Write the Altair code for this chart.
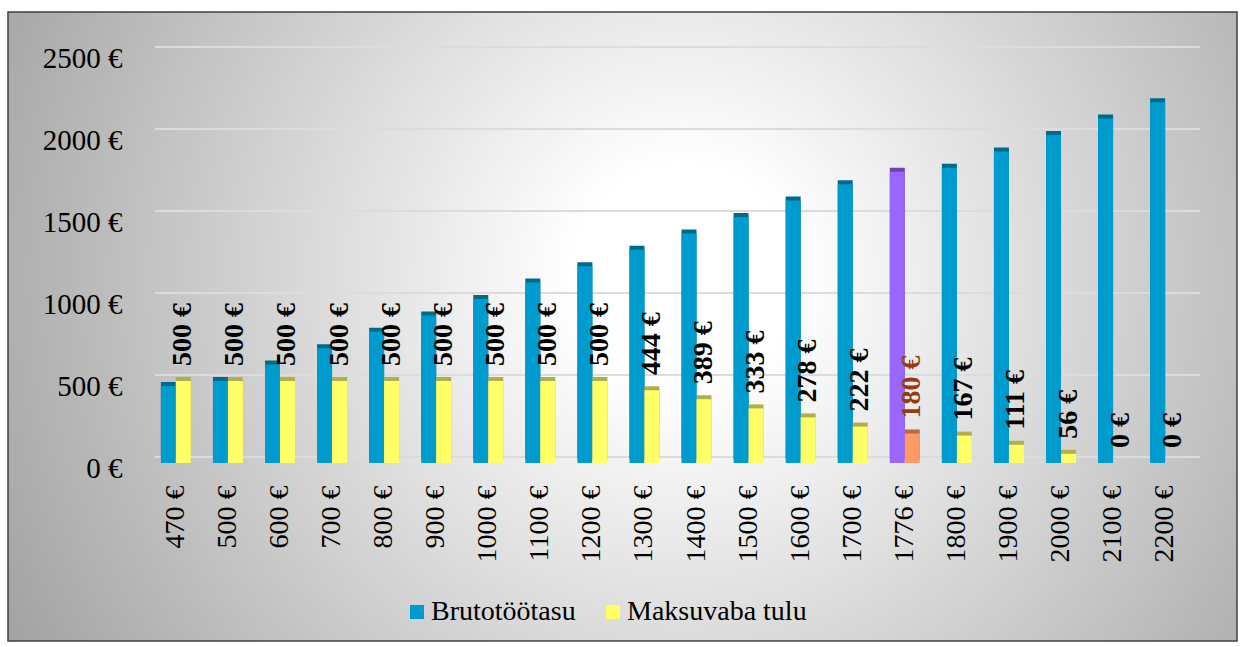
import altair as alt
import pandas as pd

categories = ["470 €", "500 €", "600 €", "700 €", "800 €", "900 €", "1000 €", "1100 €",
              "1200 €", "1300 €", "1400 €", "1500 €", "1600 €", "1700 €", "1776 €",
              "1800 €", "1900 €", "2000 €", "2100 €", "2200 €"]
bruto = [470, 500, 600, 700, 800, 900, 1000, 1100, 1200, 1300, 1400, 1500, 1600, 1700,
         1776, 1800, 1900, 2000, 2100, 2200]
maksuvaba = [500, 500, 500, 500, 500, 500, 500, 500, 500, 444, 389, 333, 278, 222,
             180, 167, 111, 56, 0, 0]
series = ["Brutotöötasu", "Maksuvaba tulu"]
highlight = "1776 €"
y_ticks = [0, 500, 1000, 1500, 2000, 2500]

rows = []
for c, b, m in zip(categories, bruto, maksuvaba):
    for s, v in zip(series, [b, m]):
        key = s + (" *" if c == highlight else "")
        rows.append({"cat": c, "series": s, "value": v, "key": key,
                     "shade": "side " + key, "label": f"{v} €"})
df = pd.DataFrame(rows)

keys = ["Brutotöötasu", "Maksuvaba tulu", "Brutotöötasu *", "Maksuvaba tulu *"]
shade_keys = ["side " + k for k in keys]
front_colors = ["#009BCE", "#FFFF66", "#9966FF", "#FF9966"]
side_colors = ["#006A8C", "#B0B04A", "#6A45B5", "#B86A48"]

FONT = "Liberation Serif"

x_enc = alt.X("cat:N", sort=categories,
              scale=alt.Scale(paddingInner=0.424, paddingOuter=0.247),
              axis=alt.Axis(title=None, labelAngle=-90, labelFont=FONT, labelFontSize=28,
                            labelColor="black", ticks=False, domain=False, grid=False,
                            labelPadding=22, zindex=1))
xoff_enc = alt.XOffset("series:N", scale=alt.Scale(domain=series, paddingInner=0, paddingOuter=0))
y_enc = alt.Y("value:Q", scale=alt.Scale(domain=[0, 2500], nice=False),
              axis=alt.Axis(title=None, values=y_ticks, labelExpr="datum.value + ' €'",
                            labelFont=FONT, labelFontSize=29, labelColor="black",
                            ticks=False, domain=False, grid=False,
                            labelPadding=26, labelOffset=5, zindex=1))

bg = alt.Chart(pd.DataFrame({"a": [0]})).mark_rect(
    fill=alt.Gradient(gradient="radial",
                      stops=[alt.GradientStop(offset=0, color="#FFFFFF"),
                             alt.GradientStop(offset=0.12, color="#FFFFFF"),
                             alt.GradientStop(offset=1, color="#8C8C8C")],
                      x1=0.55, y1=0.46, r1=0, x2=0.55, y2=0.46, r2=0.75),
    stroke="#404040", strokeWidth=1.5
).encode(x=alt.value(-140), x2=alt.value(1089), y=alt.value(-41), y2=alt.value(588))

grid = alt.Chart(pd.DataFrame({"value": y_ticks})).mark_rule(
    color="#DCDCDC", strokeWidth=2, yOffset=-6
).encode(y=y_enc, x=alt.value(7), x2=alt.value(1052))

base = alt.Chart(df)

side = base.mark_bar(xOffset=4, yOffset=-4).encode(
    x=x_enc, xOffset=xoff_enc, y=y_enc,
    fill=alt.Fill("shade:N", scale=alt.Scale(domain=shade_keys, range=side_colors),
                  legend=None),
)

front = base.mark_bar().encode(
    x=x_enc, xOffset=xoff_enc, y=y_enc,
    color=alt.Color("key:N", scale=alt.Scale(domain=keys, range=front_colors),
                    legend=alt.Legend(title=None, values=series, orient="none",
                                      direction="horizontal", legendX=255, legendY=545,
                                      labelFont=FONT, labelFontSize=28, labelColor="black",
                                      labelLimit=0,
                                      symbolType="square", symbolSize=196,
                                      symbolStrokeWidth=0, labelOffset=0,
                                      columnPadding=23, zindex=1)),
)

labels = base.transform_filter(alt.datum.series == "Maksuvaba tulu").mark_text(
    angle=270, align="left", baseline="middle", font=FONT, fontSize=28,
    fontWeight="bold", yOffset=-15, xOffset=2
).encode(
    x=x_enc, xOffset=xoff_enc, y=y_enc, text="label:N",
    color=alt.condition(alt.datum.cat == highlight, alt.value("#943C0C"), alt.value("black")),
)

chart = alt.layer(bg, grid, side, front, labels).resolve_scale(
    color="independent", fill="independent"
).properties(
    width=1045, height=410,
    autosize=alt.AutoSizeParams(type="none"),
    padding={"left": 148, "top": 53, "right": 52, "bottom": 184},
    background="white",
).configure_view(stroke=None)

chart.save("out.html", embed_options={"renderer": "svg", "actions": False})
